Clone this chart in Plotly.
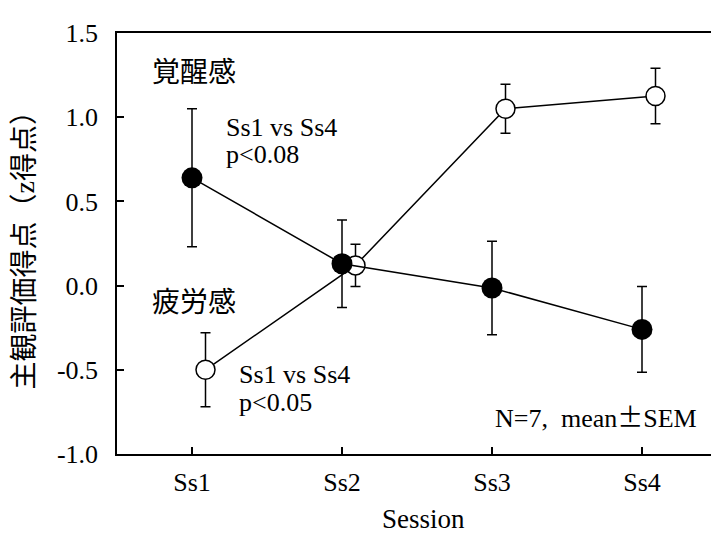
import plotly.graph_objects as go

# Sessions and subjective ratings (z scores), mean and SEM
sessions = ["Ss1", "Ss2", "Ss3", "Ss4"]
arousal_mean = [0.64, 0.13, -0.014, -0.26]
arousal_sem = [0.41, 0.26, 0.278, 0.255]
fatigue_mean = [-0.50, 0.12, 1.05, 1.126]
fatigue_sem = [0.22, 0.125, 0.145, 0.165]
y_ticks = [-1.0, -0.5, 0.0, 0.5, 1.0, 1.5]

SERIF = "Liberation Serif, Times New Roman, serif"
JP = "Liberation Serif, Noto Sans CJK JP, serif"

x_pos = list(range(1, len(sessions) + 1))
x_open = [v + 0.09 for v in x_pos]  # fatigue points drawn slightly to the right

fig = go.Figure()

fig.add_trace(go.Scatter(
    x=x_open, y=fatigue_mean, mode="lines+markers", name="疲労感",
    line=dict(color="black", width=1.5),
    marker=dict(symbol="circle", size=19, color="white",
                line=dict(color="black", width=1.5)),
    error_y=dict(type="data", array=fatigue_sem, color="black",
                 thickness=1.5, width=5),
))
fig.add_trace(go.Scatter(
    x=x_pos, y=arousal_mean, mode="lines+markers", name="覚醒感",
    line=dict(color="black", width=1.5),
    marker=dict(symbol="circle", size=21, color="black",
                line=dict(color="black", width=0)),
    error_y=dict(type="data", array=arousal_sem, color="black",
                 thickness=1.5, width=5),
))

def note(x, y, text, anchor="left", size=26, family=SERIF):
    fig.add_annotation(x=x, y=y, xref="x", yref="y", text=text,
                       showarrow=False, xanchor=anchor, yanchor="middle",
                       font=dict(family=family, size=size, color="black"))

note(0.72, 1.268, "覚醒感", size=28, family=JP)
note(1.213, 0.936, "Ss1 vs Ss4")
note(1.213, 0.776, "p&lt;0.08")
note(0.72, -0.102, "疲労感", size=28, family=JP)
note(1.30, -0.525, "Ss1 vs Ss4")
note(1.30, -0.697, "p&lt;0.05")
note(4.38, -0.774,
     "N=7,  mean<span style='font-family:Noto Sans CJK JP'>±</span>SEM",
     anchor="right")

# axis titles
fig.add_annotation(x=-0.155, y=0.5, xref="paper", yref="paper",
                   text="主観評価得点（z得点）", textangle=-90,
                   showarrow=False, xanchor="center", yanchor="middle",
                   font=dict(family=JP, size=28, color="black"))
fig.add_annotation(x=(423 - 117) / 594, y=-(519 - 454) / 421,
                   xref="paper", yref="paper", text="Session",
                   showarrow=False, xanchor="center", yanchor="middle",
                   font=dict(family=SERIF, size=27, color="black"))

fig.update_xaxes(
    range=[0.5, 4.46], tickvals=x_pos, ticktext=sessions,
    ticks="inside", ticklen=7, tickwidth=1.5, tickcolor="black",
    showline=True, linecolor="black", linewidth=1.5, mirror=True,
    showgrid=False, zeroline=False, ticklabelstandoff=4,
    tickfont=dict(family=SERIF, size=26, color="black"),
)
fig.update_yaxes(
    range=[-1.0, 1.5], tickvals=y_ticks,
    ticktext=[f"{v:.1f}" for v in y_ticks],
    ticks="inside", ticklen=7, tickwidth=1.5, tickcolor="black",
    showline=True, linecolor="black", linewidth=1.5, mirror=False,
    showgrid=False, zeroline=False, ticklabelstandoff=12,
    tickfont=dict(family=SERIF, size=26, color="black"),
)

fig.update_layout(
    width=711, height=536,
    margin=dict(l=117, r=0, t=33, b=82),
    paper_bgcolor="white", plot_bgcolor="white",
    showlegend=False,
)

fig.write_html("out.html")
